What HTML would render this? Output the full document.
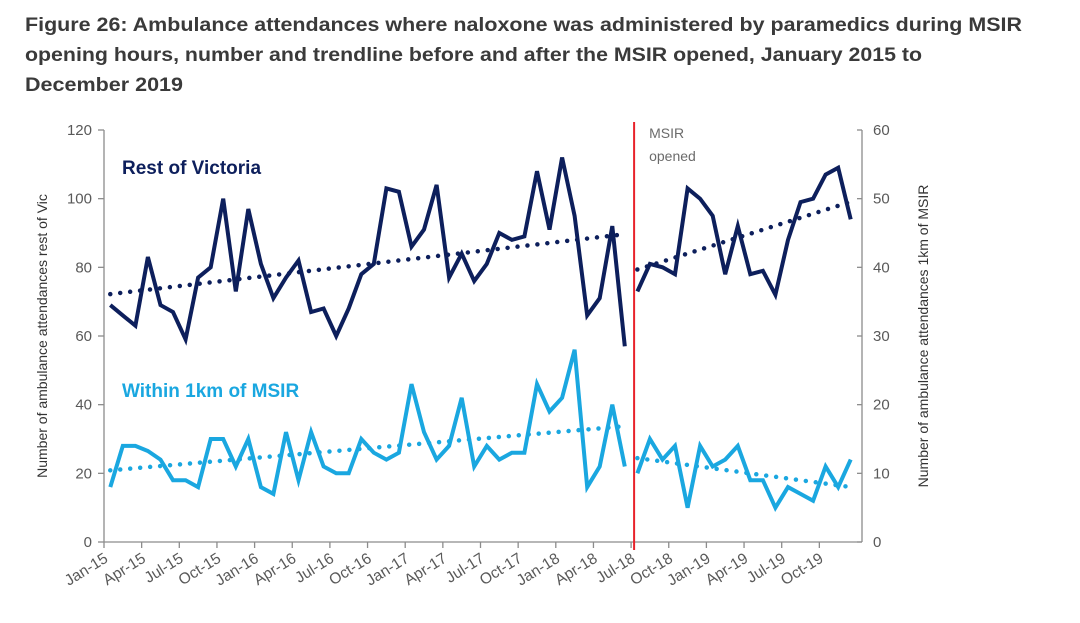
<!DOCTYPE html>
<html><head><meta charset="utf-8"><style>
html,body{margin:0;padding:0;background:#fff;}
svg{display:block;font-family:"Liberation Sans",sans-serif;}
</style></head><body>
<svg id="chart" width="1080" height="623" viewBox="0 0 1080 623">
<g font-weight="bold" font-size="19" fill="#3a3a3a">
<text x="25" y="31" textLength="997" lengthAdjust="spacingAndGlyphs">Figure 26: Ambulance attendances where naloxone was administered by paramedics during MSIR</text>
<text x="25" y="61" textLength="897" lengthAdjust="spacingAndGlyphs">opening hours, number and trendline before and after the MSIR opened, January 2015 to</text>
<text x="25" y="91" textLength="158" lengthAdjust="spacingAndGlyphs">December 2019</text>
</g>
<g id="axes"></g>
<g id="marks"></g>
</svg>
<script>
const restPre=[69,66,63,83,69,67,59,77,80,100,73,97,81,71,77,82,67,68,60,68,78,81,103,102,86,91,104,77,84,76,81,90,88,89,108,91,112,95,66,71,92,57];
const restPost=[73,81,80,78,103,100,95,78,92,78,79,72,88,99,100,107,109,94];
const msirPre=[16,28,28,26.5,24,18,18,16,30,30,22,30,16,14,32,18,32,22,20,20,30,26,24,26,46,32,24,28,42,22,28,24,26,26,46,38,42,56,16,22,40,22];
const msirPost=[20,30,24,28,10,28,22,24,28,18,18,10,16,14,12,22,16,24];
const leftTicks=[0,20,40,60,80,100,120];
const rightTicks=[0,10,20,30,40,50,60];
const xLabels=["Jan-15","Apr-15","Jul-15","Oct-15","Jan-16","Apr-16","Jul-16","Oct-16","Jan-17","Apr-17","Jul-17","Oct-17","Jan-18","Apr-18","Jul-18","Oct-18","Jan-19","Apr-19","Jul-19","Oct-19"];
const openIndex=42;

const NS="http://www.w3.org/2000/svg";
const X0=104,X1=857,Y0=542,Y1=130,N=60;
const xs=i=>X0+(i+0.5)*(X1-X0)/N;
const xb=i=>X0+i*(X1-X0)/N;
const yl=v=>Y0-(v/120)*(Y0-Y1);
const yr=v=>Y0-(v/60)*(Y0-Y1);
function mk(tag,attrs,parent){const e=document.createElementNS(NS,tag);for(const k in attrs)e.setAttribute(k,attrs[k]);parent.appendChild(e);return e;}
const axes=document.getElementById('axes'),marks=document.getElementById('marks');
const G="#8c8c8c";
let e;
e=mk('line',{x1:X0,y1:Y1,x2:X0,y2:Y0,stroke:G,'stroke-width':1.3},axes);


e=mk('line',{x1:X1+5,y1:Y1,x2:X1+5,y2:Y0,stroke:G,'stroke-width':1.3},axes);


e=mk('line',{x1:X0,y1:Y0,x2:X1+5,y2:Y0,stroke:G,'stroke-width':1.3},axes);


leftTicks.forEach(v=>{
 mk('line',{x1:X0-6,x2:X0,y1:yl(v),y2:yl(v),stroke:G,'stroke-width':1.3},axes);
 e=mk('text',{x:X0-12,y:yl(v)+5,'text-anchor':'end','font-size':15,fill:'#595959'},axes);
 e.textContent=v;
 
 
});
rightTicks.forEach(v=>{
 mk('line',{x1:X1,x2:X1+5,y1:yr(v),y2:yr(v),stroke:G,'stroke-width':1.3},axes);
 e=mk('text',{x:X1+16,y:yr(v)+5,'font-size':15,fill:'#595959'},axes);
 e.textContent=v;
 
 
});
xLabels.forEach((l,k)=>{
 const x=xb(k*3);
 mk('line',{x1:x,x2:x,y1:Y0,y2:Y0+6,stroke:G,'stroke-width':1.3},axes);
 e=mk('text',{x:x+5,y:Y0+19,'text-anchor':'end','font-size':15.5,fill:'#595959',transform:`rotate(-32 ${x+5} ${Y0+19})`},axes);
 e.textContent=l;
 
 
});
e=mk('text',{x:47,y:336,'text-anchor':'middle','font-size':14,fill:'#333',transform:'rotate(-90 47 336)'},axes);
e.textContent='Number of ambulance attendances rest of Vic';


e=mk('text',{x:928,y:336,'text-anchor':'middle','font-size':14,fill:'#333',transform:'rotate(-90 928 336)'},axes);
e.textContent='Number of ambulance attendances 1km of MSIR';



const rx=xb(openIndex)+3;
e=mk('line',{x1:rx,x2:rx,y1:122,y2:550,stroke:'#e8222a','stroke-width':2},marks);


e=mk('text',{x:rx+15,y:138,'font-size':14,fill:'#6b6b6b'},marks);e.textContent='MSIR';


e=mk('text',{x:rx+15,y:161,'font-size':14,fill:'#6b6b6b'},marks);e.textContent='opened';



function series(vals,start,color,name){
 const pts=vals.map((v,i)=>xs(start+i).toFixed(1)+','+yl(v).toFixed(1)).join(' ');
 const p=mk('polyline',{points:pts,fill:'none',stroke:color,'stroke-width':4,'stroke-linejoin':'miter'},marks);
 
 
 const n=vals.length;let sx=0,sy=0,sxy=0,sxx=0;
 vals.forEach((v,i)=>{sx+=i;sy+=v;sxy+=i*v;sxx+=i*i;});
 const b=(n*sxy-sx*sy)/(n*sxx-sx*sx),a=(sy-b*sx)/n;
 const t=mk('line',{x1:xs(start),y1:yl(a),x2:xs(start+n-1),y2:yl(a+b*(n-1)),stroke:color,'stroke-width':4.5,'stroke-linecap':'round','stroke-dasharray':'0 10'},marks);
 
 
}
series(restPre,0,'#0d1f5c','rest-of-victoria-before');
series(restPost,openIndex,'#0d1f5c','rest-of-victoria-after');
series(msirPre,0,'#1aa7e0','within-1km-before');
series(msirPost,openIndex,'#1aa7e0','within-1km-after');

e=mk('text',{x:122,y:174,'font-size':19,'font-weight':'bold',fill:'#0d1f5c'},marks);
e.textContent='Rest of Victoria';


e=mk('text',{x:122,y:397,'font-size':19,'font-weight':'bold',fill:'#1aa7e0'},marks);
e.textContent='Within 1km of MSIR';


</script>
</body></html>
